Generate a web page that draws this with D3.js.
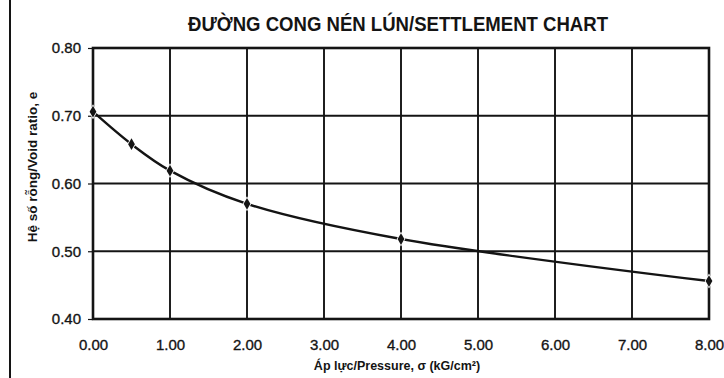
<!DOCTYPE html>
<html><head><meta charset="utf-8">
<script src="https://cdn.jsdelivr.net/npm/d3@7"></script>
<style>body{margin:0;background:#fff}svg{display:block}</style>
</head><body>
<svg id="c" width="724" height="378"></svg>
<script>
const pressure = [0, 0.5, 1, 2, 4, 8];
const voidRatio = [0.706, 0.658, 0.619, 0.570, 0.518, 0.456];
const xTicks = [0,1,2,3,4,5,6,7,8];
const yTicks = [0.40,0.50,0.60,0.70,0.80];
const title = "ĐƯỜNG CONG NÉN LÚN/SETTLEMENT CHART";
const xTitle = "Áp lực/Pressure, σ (kG/cm²)";
const yTitle = "Hệ số rỗng/Void ratio, e";

const svg = d3.select("#c");
const L=93, R=709, T=48, B=319;
const x = d3.scaleLinear().domain([0,8]).range([L,R]);
const y = d3.scaleLinear().domain([0.4,0.8]).range([B,T]);
const ink = "#141414";

svg.append("rect").attr("width",724).attr("height",378).attr("fill","#fff");
svg.append("line").attr("x1",10).attr("x2",10).attr("y1",0).attr("y2",378).attr("stroke",ink).attr("stroke-width",2);

svg.append("text").attr("x",398).attr("y",31).attr("text-anchor","middle")
  .attr("font-family","'Liberation Sans Narrow','Arial Narrow','Liberation Sans',Arial,sans-serif")
  .attr("font-weight","bold").attr("font-size",20).attr("fill",ink)
  .attr("textLength",420).attr("lengthAdjust","spacingAndGlyphs").text(title);

// grid
const g = svg.append("g");
g.selectAll(".vg").data(xTicks).join("line").attr("x1",d=>x(d)).attr("x2",d=>x(d))
  .attr("y1",T).attr("y2",B).attr("stroke",ink).attr("stroke-width",1.9);
g.selectAll(".hg").data(yTicks).join("line").attr("x1",L).attr("x2",R)
  .attr("y1",d=>y(d)).attr("y2",d=>y(d)).attr("stroke",ink).attr("stroke-width",1.9);
g.append("rect").attr("x",L).attr("y",T).attr("width",R-L).attr("height",B-T)
  .attr("fill","none").attr("stroke",ink).attr("stroke-width",2.6);

const tickFont = sel => sel.attr("font-family","'Liberation Sans',Arial,sans-serif").attr("font-size",15)
  .attr("fill",ink).attr("stroke",ink).attr("stroke-width",0.35);

// y axis
const ya = svg.append("g").attr("transform",`translate(${L},0)`)
  .call(d3.axisLeft(y).tickValues(yTicks).tickFormat(d3.format(".2f")).tickSize(5).tickPadding(7));
ya.select(".domain").remove();
ya.selectAll("line").attr("stroke",ink).attr("stroke-width",1.2);
ya.selectAll("text").call(tickFont);

// x axis
const xa = svg.append("g").attr("transform",`translate(0,${B})`)
  .call(d3.axisBottom(x).tickValues(xTicks).tickFormat(d3.format(".2f")).tickSize(0).tickPadding(20));
xa.select(".domain").remove();
xa.selectAll("text").call(tickFont);

svg.append("text").attr("x",397).attr("y",370).attr("text-anchor","middle")
  .attr("font-family","'Liberation Sans',Arial,sans-serif").attr("font-weight","bold").attr("font-size",12.5).attr("fill",ink)
  .text(xTitle);
svg.append("text").attr("transform","translate(37,167) rotate(-90)").attr("text-anchor","middle")
  .attr("font-family","'Liberation Sans',Arial,sans-serif").attr("font-weight","bold").attr("font-size",13.5).attr("fill",ink)
  .text(yTitle);

// curve
const pts = pressure.map((p,i)=>[p,voidRatio[i]]);
svg.append("path").datum(pts)
  .attr("d", d3.line().x(d=>x(d[0])).y(d=>y(d[1])).curve(d3.curveCatmullRom.alpha(0.5)))
  .attr("fill","none").attr("stroke",ink).attr("stroke-width",2.4);
svg.selectAll(".m").data(pts).join("path")
  .attr("transform",d=>`translate(${x(d[0])},${y(d[1])})`)
  .attr("d", d3.symbol(d3.symbolDiamond, 40))
  .attr("fill",ink).attr("stroke","#fff").attr("stroke-width",1.6).attr("paint-order","stroke");
</script>
</body></html>
